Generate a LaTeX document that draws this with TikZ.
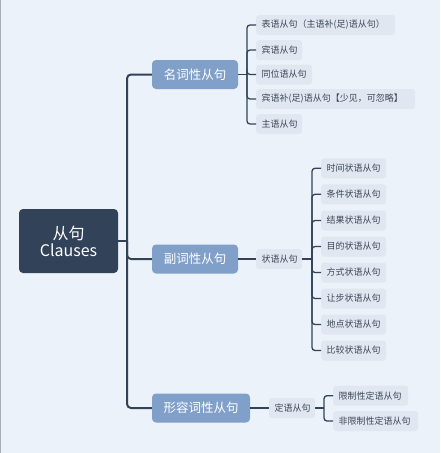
\documentclass[tikz,border=0pt]{standalone}
\usepackage{fontspec}
\setmainfont{Noto Sans CJK SC}
\begin{document}
\begin{tikzpicture}[x=1pt,y=-1pt,
  rootbox/.style={fill=rootc,rounded corners=4pt,text=white,font=\fontsize{16}{19}\selectfont,align=center,inner sep=0pt,minimum width=99pt,minimum height=64pt},
  mainbox/.style={fill=mainc,rounded corners=4pt,text=white,font=\fontsize{12.5}{15}\selectfont,inner sep=0pt,minimum height=29pt},
  leafbox/.style={fill=leafc,rounded corners=3pt,text=leaftext,font=\fontsize{9}{11}\selectfont,inner xsep=5.5pt,inner ysep=0pt,minimum height=20pt,anchor=west,align=left,text width=#1},
  trunk/.style={draw=linec,line width=2pt,rounded corners=4pt},
  twig/.style={draw=linec,line width=1.3pt,rounded corners=3pt}]
\definecolor{bgc}{HTML}{EBF2FA}
\definecolor{rootc}{HTML}{324359}
\definecolor{mainc}{HTML}{809FC9}
\definecolor{leafc}{HTML}{E0E7F0}
\definecolor{leaftext}{HTML}{3C4656}
\definecolor{linec}{HTML}{324359}
\definecolor{edgec}{HTML}{A8AEB4}
\fill[bgc] (0,0) rectangle (440,453);
\useasboundingbox (0,0) rectangle (440,453);
\fill[edgec] (0,0) rectangle (1.2,453);

\node[rootbox] (root) at (68.5,241) {从句\\[-2pt]Clauses};

\node[mainbox,minimum width=86pt] (n1) at (195,74.5) {名词性从句};
\node[mainbox,minimum width=86pt] (n2) at (195,259) {副词性从句};
\node[mainbox,minimum width=98pt] (n3) at (201,408) {形容词性从句};

\coordinate (tk) at (127,241);
\draw[trunk] (root.east) -- (tk);
\draw[trunk] (tk) |- (n1.west);
\draw[trunk] (tk) |- (n2.west);
\draw[trunk] (tk) |- (n3.west);

% noun clause leaves
\node[leafbox=128pt] (a1) at (256,25) {表语从句（主语补(足)语从句）};
\node[leafbox=35pt] (a2) at (256,50) {宾语从句};
\node[leafbox=45pt] (a3) at (256,74.5) {同位语从句};
\node[leafbox=148pt] (a4) at (256,99) {宾语补(足)语从句【少见，可忽略】};
\node[leafbox=35pt] (a5) at (256,124) {主语从句};
\coordinate (ba) at (247,74.5);
\draw[twig] (n1.east) -- (ba);
\foreach \i in {1,...,5} {\draw[twig] (ba) |- (a\i.west);}

% adverbial
\node[leafbox=35pt] (adv) at (256,259) {状语从句};
\draw[twig] (n2.east) -- (adv.west);
\node[leafbox=54pt] (b1) at (321,168.3) {时间状语从句};
\node[leafbox=54pt] (b2) at (321,194.3) {条件状语从句};
\node[leafbox=54pt] (b3) at (321,220.5) {结果状语从句};
\node[leafbox=54pt] (b4) at (321,246.5) {目的状语从句};
\node[leafbox=54pt] (b5) at (321,272.5) {方式状语从句};
\node[leafbox=54pt] (b6) at (321,298.5) {让步状语从句};
\node[leafbox=54pt] (b7) at (321,324.5) {地点状语从句};
\node[leafbox=54pt] (b8) at (321,350.5) {比较状语从句};
\coordinate (bb) at (312,259);
\draw[twig] (adv.east) -- (bb);
\foreach \i in {1,...,8} {\draw[twig] (bb) |- (b\i.west);}

% adjectival
\node[leafbox=35pt] (att) at (269,408) {定语从句};
\draw[twig] (n3.east) -- (att.west);
\node[leafbox=64pt] (c1) at (333,395.7) {限制性定语从句};
\node[leafbox=74pt] (c2) at (333,421) {非限制性定语从句};
\coordinate (bc) at (324,408);
\draw[twig] (att.east) -- (bc);
\draw[twig] (bc) |- (c1.west);
\draw[twig] (bc) |- (c2.west);
\end{tikzpicture}
\end{document}
